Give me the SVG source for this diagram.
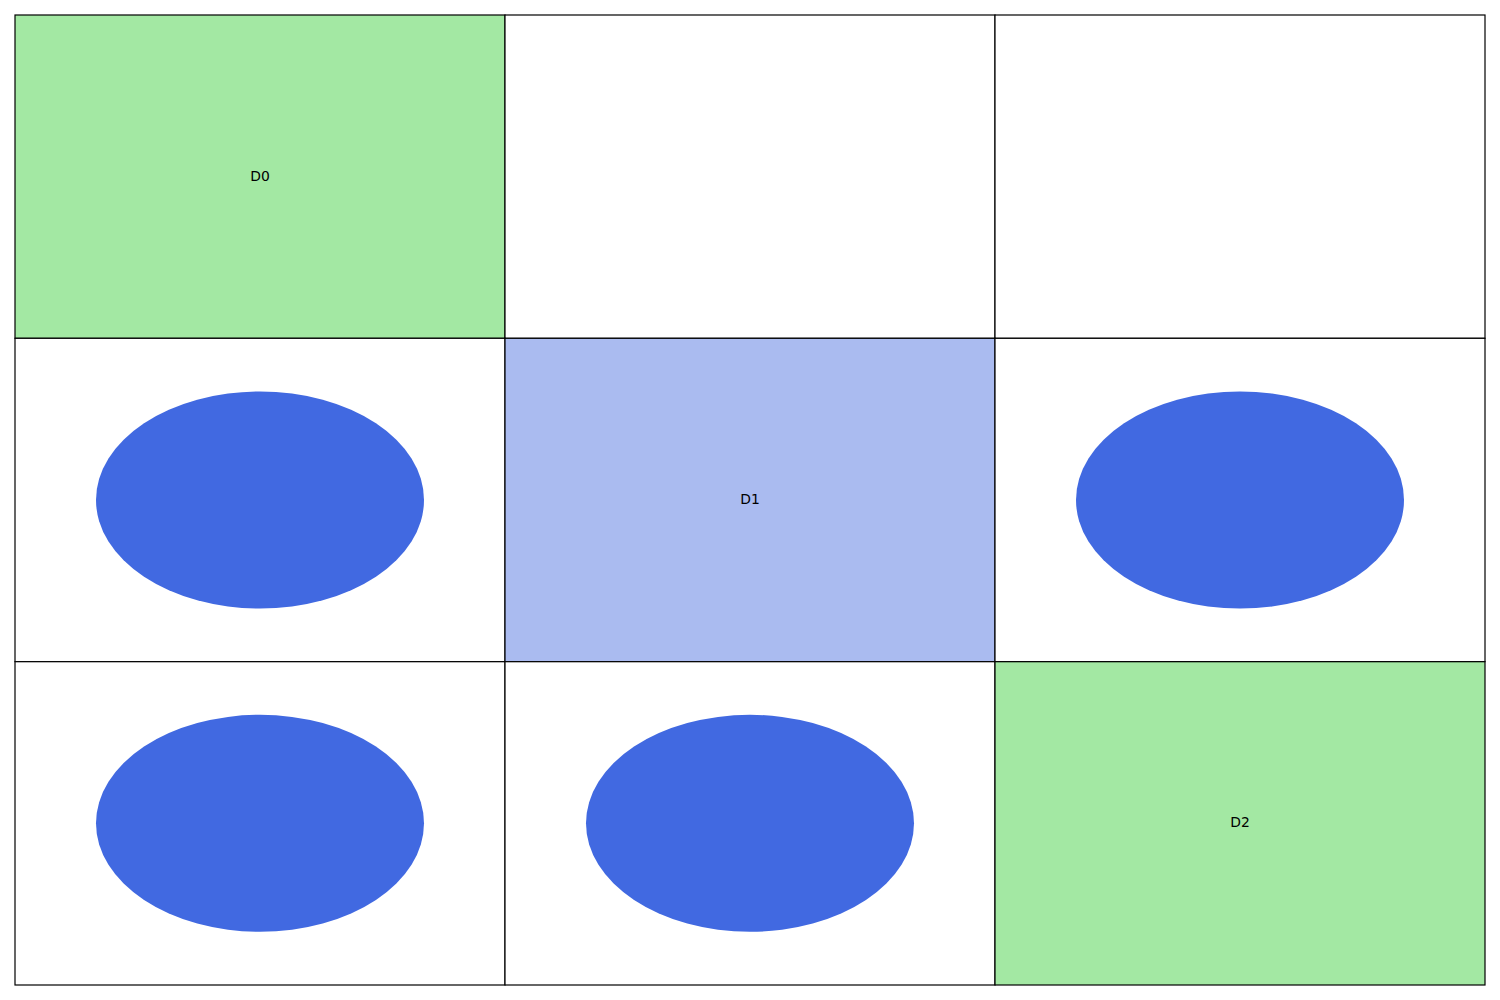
<svg xmlns="http://www.w3.org/2000/svg" width="1500" height="1000" viewBox="0 0 1500 1000">
<style>
.cell{stroke:#000;stroke-width:1.2}
.g{fill:#a3e8a3}
.b{fill:#aabbf0}
.w{fill:#fff}
.e{fill:#4169e1}
.t{font-family:"DejaVu Sans",sans-serif;font-size:13.9px;fill:#000;text-anchor:middle;dominant-baseline:central}
</style>
<rect width="1500" height="1000" fill="#fff"/>
<g id="cell-0-0"><rect class="cell g" x="15" y="15" width="490" height="323.3"/><text class="t" x="260" y="175.8">D0</text></g>
<g id="cell-0-1"><rect class="cell w" x="505" y="15" width="490" height="323.3"/></g>
<g id="cell-0-2"><rect class="cell w" x="995" y="15" width="490" height="323.3"/></g>
<g id="cell-1-0"><rect class="cell w" x="15" y="338.3" width="490" height="323.3"/><ellipse class="e" cx="260" cy="500" rx="164" ry="108.5"/></g>
<g id="cell-1-1"><rect class="cell b" x="505" y="338.3" width="490" height="323.3"/><text class="t" x="750" y="499.1">D1</text></g>
<g id="cell-1-2"><rect class="cell w" x="995" y="338.3" width="490" height="323.3"/><ellipse class="e" cx="1240" cy="500" rx="164" ry="108.5"/></g>
<g id="cell-2-0"><rect class="cell w" x="15" y="661.7" width="490" height="323.3"/><ellipse class="e" cx="260" cy="823.3" rx="164" ry="108.5"/></g>
<g id="cell-2-1"><rect class="cell w" x="505" y="661.7" width="490" height="323.3"/><ellipse class="e" cx="750" cy="823.3" rx="164" ry="108.5"/></g>
<g id="cell-2-2"><rect class="cell g" x="995" y="661.7" width="490" height="323.3"/><text class="t" x="1240" y="822.4">D2</text></g>
<g id="connectors"></g>
</svg>
